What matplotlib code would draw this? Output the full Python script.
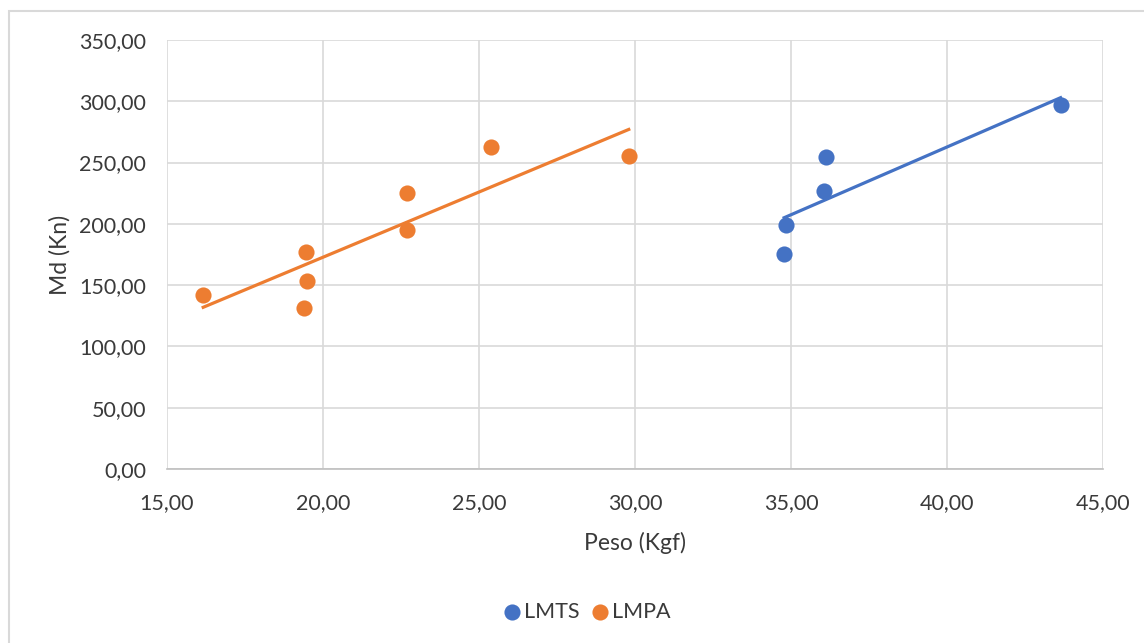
import numpy as np
import matplotlib.pyplot as plt
from matplotlib.patches import Rectangle
from matplotlib.ticker import FuncFormatter

# data
lmts_peso = [34.78, 34.83, 36.05, 36.11, 43.64]
lmts_md = [175.4, 199.3, 226.5, 254.3, 296.7]

lmpa_peso = [16.16, 19.39, 19.46, 19.48, 22.68, 22.68, 25.38, 29.80]
lmpa_md = [141.8, 131.1, 177.3, 153.1, 195.0, 225.2, 263.0, 255.6]

blue = "#4472C4"
orange = "#ED7D31"
txt = "#3A3A3A"

plt.rcParams['font.family'] = ['Lato', 'DejaVu Sans']

fig = plt.figure(figsize=(11.44, 6.43), dpi=100)
# outer chart frame (cropped on right/bottom like the screenshot)
fig.patches.append(Rectangle((9 / 1144, -0.1), 1.2, 1 - 11 / 643 + 0.1,
                             transform=fig.transFigure, fill=False,
                             edgecolor="#D9D9D9", linewidth=1.5))

ax = fig.add_axes([167 / 1144, 1 - 469 / 643, (1103 - 167) / 1144, (469 - 40) / 643])

for xs, ys, c, lab in [(lmts_peso, lmts_md, blue, "LMTS"), (lmpa_peso, lmpa_md, orange, "LMPA")]:
    ax.scatter(xs, ys, s=135, color=c, label=lab, zorder=3, linewidths=0)
    k, b = np.polyfit(xs, ys, 1)
    xx = np.array([min(xs), max(xs)])
    ax.plot(xx, k * xx + b, color=c, linewidth=2.3, zorder=2)

ax.set_xlim(15, 45)
ax.set_ylim(0, 350)
ax.set_xticks(np.arange(15, 46, 5))
ax.set_yticks(np.arange(0, 351, 50))
fmt = FuncFormatter(lambda v, p: f"{v:.2f}".replace(".", ","))
ax.xaxis.set_major_formatter(fmt)
ax.yaxis.set_major_formatter(fmt)
ax.grid(True, color="#D9D9D9", linewidth=1.2)
ax.set_axisbelow(True)
for s in ["top", "right", "left"]:
    ax.spines[s].set_visible(False)
ax.spines["bottom"].set_color("#BFBFBF")
ax.spines["bottom"].set_linewidth(1.2)
ax.tick_params(length=0, labelsize=15.5, colors=txt)
ax.tick_params(axis="x", pad=17)
ax.tick_params(axis="y", pad=15)

ax.set_xlabel("Peso (Kgf)", fontsize=16.5, color=txt, labelpad=14)
ax.set_ylabel("Md (Kn)", fontsize=16.5, color=txt, labelpad=6)

fig.legend(loc="center", bbox_to_anchor=(0.513, 1 - 612 / 643), ncol=2, frameon=False,
           fontsize=15.5, handlelength=0.8, handletextpad=0.15, columnspacing=0.55,
           markerscale=1.0, labelcolor=txt)

fig.savefig("out.png", dpi=100)
